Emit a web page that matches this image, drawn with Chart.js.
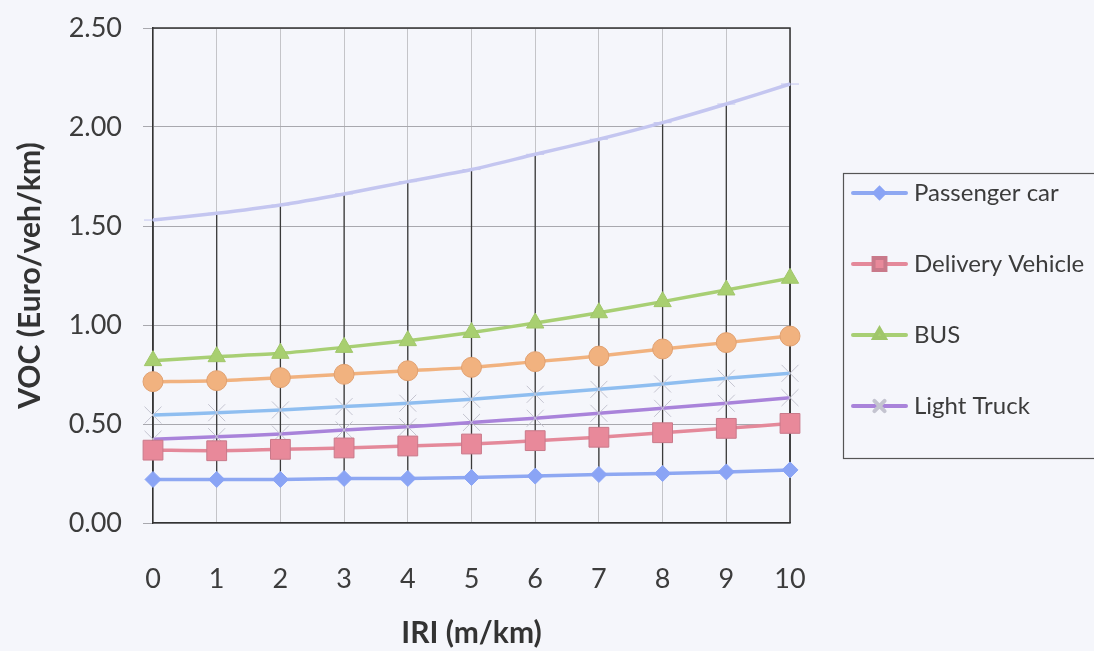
<!DOCTYPE html>
<html>
<head>
<meta charset="utf-8">
<title>VOC vs IRI</title>
<script src="https://cdn.jsdelivr.net/npm/chart.js@4.4.1/dist/chart.umd.min.js"></script>
<style>
	html, body { margin: 0; padding: 0; background: #f5f6fb; }
	#wrap { width: 1094px; height: 651px; }
</style>
</head>
<body>
<div id="wrap"><canvas id="vocChart" width="1094" height="651"></canvas></div>
<script>
'use strict'
/*-----Data-----*/
var iriLabels = ['0', '1', '2', '3', '4', '5', '6', '7', '8', '9', '10'];
var yTicks = [0, 0.5, 1, 1.5, 2, 2.5];

var passengerCar    = [0.22, 0.22, 0.22, 0.225, 0.225, 0.23, 0.237, 0.245, 0.25, 0.258, 0.268];
var deliveryVehicle = [0.368, 0.365, 0.372, 0.379, 0.389, 0.399, 0.416, 0.433, 0.456, 0.478, 0.503];
var bus             = [0.82, 0.84, 0.857, 0.887, 0.921, 0.962, 1.01, 1.062, 1.118, 1.177, 1.236];
var lightTruck      = [0.423, 0.436, 0.449, 0.47, 0.486, 0.508, 0.529, 0.554, 0.579, 0.605, 0.633];
var series5         = [0.545, 0.557, 0.571, 0.588, 0.605, 0.625, 0.65, 0.675, 0.702, 0.731, 0.756];
var series6         = [0.714, 0.719, 0.734, 0.751, 0.769, 0.786, 0.815, 0.843, 0.879, 0.911, 0.944];
var series7         = [1.53, 1.564, 1.606, 1.662, 1.724, 1.785, 1.862, 1.938, 2.022, 2.116, 2.217];

var legendIndexes = [0, 1, 2, 3];

var FONT = 'Lato, "Open Sans", sans-serif';

/*-----Plugins-----*/
// Excel style high-low lines + frame around plot area
var highLowPlugin = {
	id: 'highLow',
	beforeDatasetsDraw: function(chart) {
		var ctx = chart.ctx, area = chart.chartArea;
		var xs = chart.scales.x, ys = chart.scales.y;
		ctx.save();
		ctx.strokeStyle = '#3a3a3a';
		ctx.lineWidth = 1.3;
		iriLabels.forEach(function(lbl, i) {
			var vals = chart.data.datasets.map(function(d) { return d.data[i]; });
			var px = xs.getPixelForValue(i);
			ctx.beginPath();
			ctx.moveTo(px, ys.getPixelForValue(Math.max.apply(null, vals)));
			ctx.lineTo(px, ys.getPixelForValue(Math.min.apply(null, vals)));
			ctx.stroke();
		});
		// top and right frame
		ctx.strokeStyle = '#333';
		ctx.lineWidth = 1.5;
		ctx.beginPath();
		ctx.moveTo(area.left, area.top);
		ctx.lineTo(area.right, area.top);
		ctx.lineTo(area.right, area.bottom);
		ctx.stroke();
		ctx.restore();
	}
};

var sideLegend = {
	id: 'sideLegend',
	afterDraw: function(chart) {
		var ctx = chart.ctx;
		ctx.save();
		ctx.strokeStyle = '#555';
		ctx.lineWidth = 1.2;
		ctx.strokeRect(843.5, 173.5, 300, 285);
		legendIndexes.forEach(function(idx, n) {
			var ds = chart.data.datasets[idx];
			var y = 193 + n * 71;
			ctx.strokeStyle = ds.borderColor;
			ctx.lineWidth = 4;
			ctx.lineCap = 'round';
			ctx.beginPath();
			ctx.moveTo(853, y);
			ctx.lineTo(906, y);
			ctx.stroke();
			ctx.fillStyle = ds.pointBackgroundColor;
			ctx.strokeStyle = ds.pointBorderColor;
			Chart.helpers.drawPoint(ctx, {
				pointStyle: ds.pointStyle,
				radius: ds.pointRadius * 0.6,
				borderWidth: 1.5,
				rotation: 0
			}, 879.5, y);
			ctx.fillStyle = '#3c3c3c';
			ctx.font = '24px ' + FONT;
			ctx.textBaseline = 'middle';
			ctx.fillText(ds.label, 914, y);
		});
		ctx.restore();
	}
};

/*-----LineChart-----*/
function series(label, data, color, style, radius, markerFill, markerBorder) {
	return {
		label: label,
		data: data,
		borderColor: color,
		borderWidth: 3.5,
		tension: 0.25,
		pointStyle: style,
		pointRadius: radius,
		pointHoverRadius: radius,
		pointBackgroundColor: markerFill,
		pointBorderColor: markerBorder,
		pointBorderWidth: 1
	};
}

var ctx = document.getElementById('vocChart');
var myChart = new Chart(ctx, {
	type: 'line',
	data: {
		labels: iriLabels,
		datasets: [
			series('Passenger car', passengerCar, '#8ea8f2', 'rectRot', 8, '#8aa4f5', '#8aa4f5'),
			series('Delivery Vehicle', deliveryVehicle, '#e4899a', 'rect', 14, '#e8899a', '#c9798a'),
			series('BUS', bus, '#a8cf74', 'triangle', 10, '#a8cf70', '#a0c66a'),
			series('Light Truck', lightTruck, '#a983da', 'crossRot', 12, 'rgba(0,0,0,0)', '#c4c4d0'),
			series('Series 5', series5, '#8fbef0', 'crossRot', 12, 'rgba(0,0,0,0)', '#c4c4d0'),
			series('Series 6', series6, '#f1b27f', 'circle', 10, '#f1b27f', '#e0a070'),
			series('Series 7', series7, '#c4c6f0', 'line', 9, '#c4c6f0', '#c4c6f0')
		]
	},
	options: {
		responsive: false,
		animation: false,
		layout: { padding: { top: 28, right: 304, left: 0, bottom: 0 } },
		plugins: {
			legend: { display: false },
			tooltip: { enabled: false }
		},
		scales: {
			x: {
				type: 'category',
				offset: false,
				afterFit: function(scale) { scale.height = 128; },
				grid: { color: '#c4c4c8', lineWidth: 1, drawTicks: false },
				border: { color: '#333', width: 1.5 },
				ticks: {
					padding: 40,
					color: '#3c3c3c',
					font: { family: FONT, size: 27 },
					maxRotation: 0
				},
				title: {
					display: true,
					text: 'IRI (m/km)',
					color: '#333',
					padding: { top: 0, bottom: 0 },
					font: { family: FONT, size: 30, weight: 'bold' }
				}
			},
			y: {
				min: 0,
				max: 2.5,
				afterFit: function(scale) {
					scale.width = 153;
					scale.paddingTop = 0;
					scale.paddingBottom = 0;
				},
				afterBuildTicks: function(scale) {
					scale.ticks = yTicks.map(function(v) { return { value: v }; });
				},
				grid: { color: '#a8a8ae', lineWidth: 1, tickLength: 10 },
				border: { color: '#333', width: 1.5 },
				ticks: {
					padding: 21,
					color: '#3c3c3c',
					font: { family: FONT, size: 27 },
					callback: function(v) { return Number(v).toFixed(2); }
				},
				title: {
					display: true,
					text: 'VOC (Euro/veh/km)',
					color: '#333',
					padding: { top: 12, bottom: 0 },
					font: { family: FONT, size: 30, weight: 'bold' }
				}
			}
		}
	},
	plugins: [highLowPlugin, sideLegend]
});
</script>
</body>
</html>
